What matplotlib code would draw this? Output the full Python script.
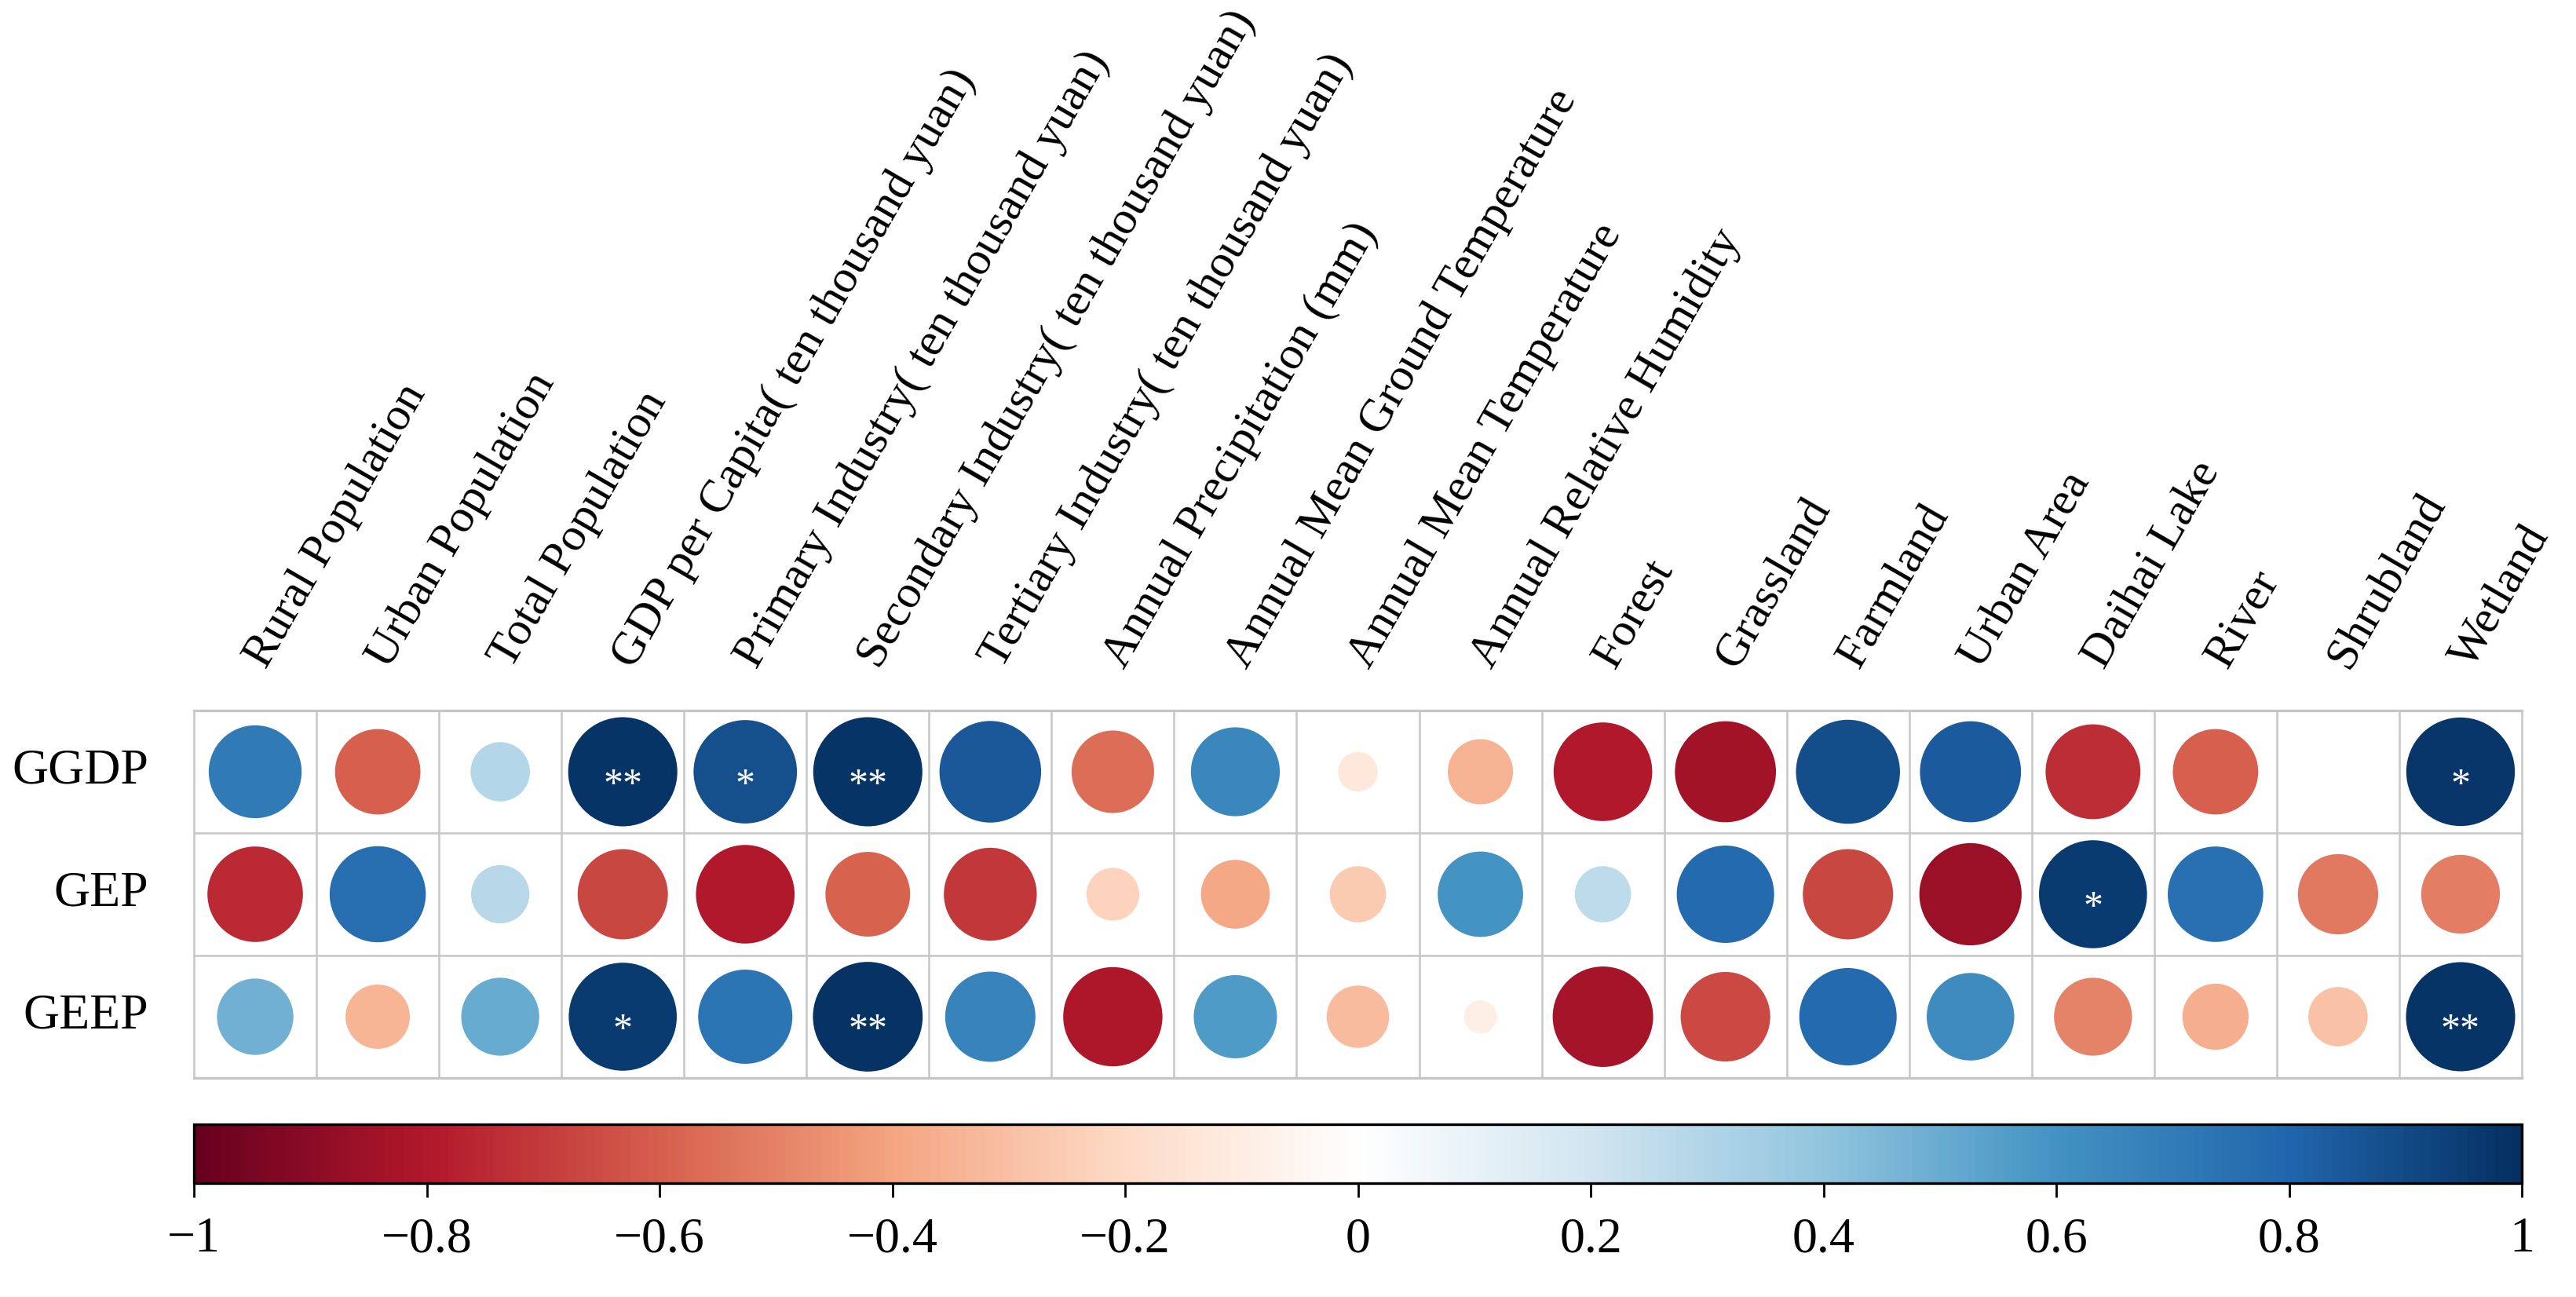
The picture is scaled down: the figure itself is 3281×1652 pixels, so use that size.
import matplotlib
matplotlib.use('Agg')
import matplotlib.pyplot as plt
import numpy as np
from matplotlib.colors import LinearSegmentedColormap, Normalize
from matplotlib.patches import Circle
from matplotlib.cm import ScalarMappable

# data
rows = ['GGDP', 'GEP', 'GEEP']
cols = ['Rural Population', 'Urban Population', 'Total Population',
        'GDP per Capita( ten thousand yuan)', 'Primary Industry( ten thousand yuan)',
        'Secondary Industry( ten thousand yuan)', 'Tertiary Industry( ten thousand yuan)',
        'Annual Precipitation (mm)', 'Annual Mean Ground Temperature',
        'Annual Mean Temperature', 'Annual Relative Humidity', 'Forest', 'Grassland',
        'Farmland', 'Urban Area', 'Daihai Lake', 'River', 'Shrubland', 'Wetland']

ggdp = [0.71, -0.60, 0.29, 0.98, 0.88, 0.98, 0.85, -0.56, 0.65, -0.13, -0.35,
        -0.80, -0.84, 0.89, 0.84, -0.74, -0.60, 0.0, 0.97]
gep = [-0.75, 0.76, 0.28, -0.67, -0.80, -0.59, -0.71, -0.23, -0.39, -0.26, 0.60,
       0.26, 0.78, -0.67, -0.86, 0.96, 0.75, -0.53, -0.51]
geep = [0.48, -0.34, 0.50, 0.96, 0.73, 0.99, 0.67, -0.81, 0.57, -0.32, -0.09,
        -0.83, -0.66, 0.78, 0.63, -0.50, -0.36, -0.29, 0.98]

sig_ggdp = ['', '', '', '**', '*', '**', '', '', '', '', '', '', '', '', '', '', '', '', '*']
sig_gep = ['', '', '', '', '', '', '', '', '', '', '', '', '', '', '', '*', '', '', '']
sig_geep = ['', '', '', '*', '', '**', '', '', '', '', '', '', '', '', '', '', '', '', '**']

corr = np.array([ggdp, gep, geep])
sig = [sig_ggdp, sig_gep, sig_geep]

# corrplot RdBu colours
cmap = LinearSegmentedColormap.from_list('corr_rdbu', [
    '#67001F', '#B2182B', '#D6604D', '#F4A582', '#FDDBC7', '#FFFFFF',
    '#D1E5F0', '#92C5DE', '#4393C3', '#2166AC', '#053061'])
norm = Normalize(-1, 1)

plt.rcParams['font.family'] = ['Liberation Serif', 'DejaVu Serif']

W, H = 3281, 1652
fig = plt.figure(figsize=(W / 200, H / 200), dpi=200)
ax = fig.add_axes([247 / W, (H - 1373) / H, (3212 - 247) / W, (1373 - 905) / H])
nr, nc = corr.shape
ax.set_xlim(0, nc)
ax.set_ylim(0, nr)
ax.axis('off')

# circles
for i in range(nr):
    yc = nr - i - 0.5
    for j in range(nc):
        v = corr[i, j]
        r = 0.45 * np.sqrt(abs(v))
        if r > 0:
            ax.add_patch(Circle((j + 0.5, yc), r, facecolor=cmap(norm(v)),
                                edgecolor='none'))
        if sig[i][j]:
            ax.text(j + 0.5, yc - 0.19, sig[i][j], color='white', fontsize=18,
                    ha='center', va='baseline')

# grid
gcol = '#c6c6c6'
for j in range(nc + 1):
    ax.plot([j, j], [0, nr], color=gcol, lw=0.9, clip_on=False)
for i in range(nr + 1):
    ax.plot([0, nc], [i, i], color=gcol, lw=1.2 if i in (0, nr) else 0.9, clip_on=False)

# row labels
for i, name in enumerate(rows):
    ax.text(-0.37, nr - i - 0.5, name, ha='right', va='center', fontsize=23)

# column labels
for j, name in enumerate(cols):
    ax.text(j + 0.59, nr + 0.33, name, rotation=60, rotation_mode='anchor',
            ha='left', va='baseline', fontsize=21.5)

# colorbar
cax = fig.add_axes([247 / W, (H - 1507) / H, (3212 - 247) / W, 75 / H])
cb = fig.colorbar(ScalarMappable(norm=norm, cmap=cmap), cax=cax,
                  orientation='horizontal', ticks=np.linspace(-1, 1, 11))
cb.set_ticklabels([f'{t:g}'.replace('-', '\u2212') for t in np.round(np.linspace(-1, 1, 11), 1)])
cb.outline.set_linewidth(1.2)
cax.tick_params(direction='out', length=6.5, width=1.0, pad=9, labelsize=23)

fig.savefig('out.png', dpi=200)
